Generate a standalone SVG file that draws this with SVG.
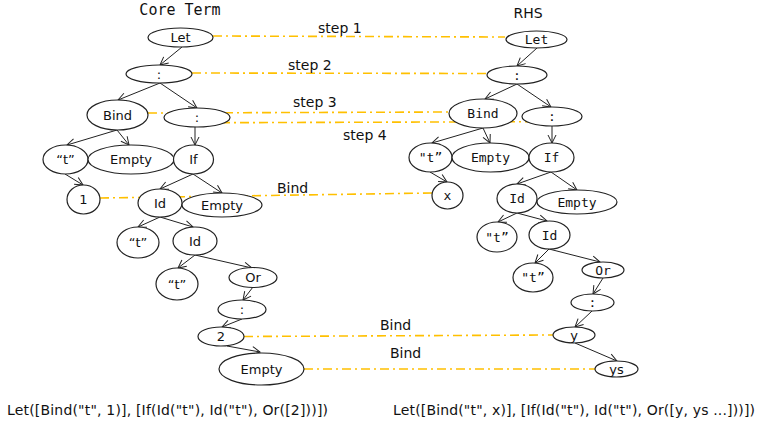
<svg xmlns="http://www.w3.org/2000/svg" width="758" height="424" viewBox="0 0 758 424">
<defs>
<marker id="ah" markerWidth="10" markerHeight="10" refX="9" refY="5" orient="auto" markerUnits="userSpaceOnUse">
<polyline points="1,1 9,5 1,9" fill="none" stroke="#222" stroke-width="1"/>
</marker>
<style>
.n ellipse{fill:#fff;stroke:#222;stroke-width:1.2}
.s{font-family:"DejaVu Sans",Verdana,sans-serif;font-size:13px;fill:#111;text-anchor:middle}
.m{font-family:"DejaVu Sans Mono",monospace;font-size:13px;fill:#111;text-anchor:middle}
.e line{stroke:#222;stroke-width:1;marker-end:url(#ah)}
.y line{stroke:#FFC000;stroke-width:1.6;stroke-dasharray:9 4 2 4}
.lab{font-family:"DejaVu Sans",Verdana,sans-serif;font-size:14px;fill:#111}
.bt{font-family:"DejaVu Sans",Verdana,sans-serif;font-size:14px;fill:#111}
</style>
</defs>
<rect width="758" height="424" fill="#fff"/>
<text x="180" y="15" style="font-family:'DejaVu Sans Mono',monospace;font-size:15px;fill:#111;text-anchor:middle">Core Term</text>
<text x="528" y="18" style="font-family:'DejaVu Sans',Verdana,sans-serif;font-size:14px;fill:#111;text-anchor:middle">RHS</text>

<g id="mappings" class="y">
<line x1="213" y1="36" x2="505" y2="37"/>
<line x1="192" y1="73" x2="487" y2="73.5"/>
<line x1="148" y1="113" x2="449" y2="112"/>
<line x1="221" y1="122.7" x2="530" y2="121.7"/>
<line x1="100" y1="198" x2="432" y2="193"/>
<line x1="244" y1="336.5" x2="553" y2="335"/>
<line x1="304" y1="369" x2="595" y2="369"/>
</g>
<g id="mapping-labels">
<text class="lab" x="318" y="33">step 1</text>
<text class="lab" x="288" y="70">step 2</text>
<text class="lab" x="293" y="107">step 3</text>
<text class="lab" x="343" y="140">step 4</text>
<text class="lab" x="277" y="193">Bind</text>
<text class="lab" x="380" y="330">Bind</text>
<text class="lab" x="390" y="358">Bind</text>
</g>

<g id="connectors" class="e">
<line x1="182" y1="47" x2="160" y2="65"/>
<line x1="160" y1="83" x2="118" y2="100"/>
<line x1="160" y1="83" x2="197" y2="108"/>
<line x1="117" y1="130" x2="67" y2="145"/>
<line x1="117" y1="130" x2="129" y2="145"/>
<line x1="195" y1="127" x2="195" y2="145"/>
<line x1="65" y1="174" x2="83" y2="185"/>
<line x1="193" y1="174" x2="160" y2="189"/>
<line x1="193" y1="174" x2="222" y2="193"/>
<line x1="160" y1="217" x2="138" y2="227"/>
<line x1="160" y1="217" x2="193" y2="227"/>
<line x1="195" y1="255" x2="178" y2="268"/>
<line x1="195" y1="255" x2="252" y2="268"/>
<line x1="253" y1="287" x2="243" y2="300"/>
<line x1="242" y1="319" x2="222" y2="327"/>
<line x1="227" y1="346" x2="260" y2="352"/>

<line x1="537" y1="48" x2="517" y2="66"/>
<line x1="517" y1="84" x2="485" y2="99"/>
<line x1="517" y1="84" x2="551" y2="107"/>
<line x1="483" y1="128" x2="432" y2="143"/>
<line x1="483" y1="128" x2="490" y2="143"/>
<line x1="552" y1="126" x2="552" y2="143"/>
<line x1="430" y1="172" x2="447" y2="182"/>
<line x1="551" y1="172" x2="517" y2="184"/>
<line x1="551" y1="172" x2="577" y2="190"/>
<line x1="517" y1="213" x2="498" y2="222"/>
<line x1="517" y1="213" x2="547" y2="221"/>
<line x1="549" y1="249" x2="535" y2="263"/>
<line x1="549" y1="249" x2="600" y2="262"/>
<line x1="603" y1="278" x2="593" y2="294"/>
<line x1="592" y1="311" x2="575" y2="327"/>
<line x1="575" y1="343" x2="617" y2="361"/>
</g>

<g id="L-let" class="n"><ellipse cx="180.5" cy="37.5" rx="32.5" ry="9.5"/><text class="s" x="180.5" y="42">Let</text></g>
<g id="L-cons1" class="n"><ellipse cx="159" cy="74" rx="33" ry="9"/><text class="s" x="159" y="79">:</text></g>
<g id="L-bind" class="n"><ellipse cx="117.5" cy="115" rx="30.5" ry="15"/><text class="s" x="117.5" y="120">Bind</text></g>
<g id="L-cons2" class="n"><ellipse cx="197" cy="117.5" rx="33" ry="9.5"/><text class="s" x="197" y="122">:</text></g>
<g id="L-t1" class="n"><ellipse cx="65.5" cy="159.5" rx="22.5" ry="14.5"/><text class="s" x="65.5" y="164">“t”</text></g>
<g id="L-empty1" class="n"><ellipse cx="131" cy="159.5" rx="43" ry="14.5"/><text class="s" x="131" y="164">Empty</text></g>
<g id="L-if" class="n"><ellipse cx="193.5" cy="159.5" rx="20" ry="14.5"/><text class="s" x="193.5" y="164">If</text></g>
<g id="L-1" class="n"><ellipse cx="83.5" cy="199.5" rx="16.5" ry="14.5"/><text class="s" x="83.5" y="204">1</text></g>
<g id="L-id1" class="n"><ellipse cx="160" cy="203" rx="22" ry="14"/><text class="s" x="160" y="208">Id</text></g>
<g id="L-empty2" class="n"><ellipse cx="222" cy="205" rx="40" ry="12"/><text class="s" x="222" y="210">Empty</text></g>
<g id="L-t2" class="n"><ellipse cx="138" cy="242.5" rx="21" ry="15.5"/><text class="s" x="138" y="247">“t”</text></g>
<g id="L-id2" class="n"><ellipse cx="195" cy="241" rx="22" ry="14"/><text class="s" x="195" y="246">Id</text></g>
<g id="L-t3" class="n"><ellipse cx="177" cy="284" rx="21" ry="16"/><text class="s" x="177" y="289">“t”</text></g>
<g id="L-or" class="n"><ellipse cx="253" cy="277.5" rx="24" ry="10"/><text class="s" x="253" y="282">Or</text></g>
<g id="L-cons3" class="n"><ellipse cx="242" cy="309.5" rx="24" ry="9.5"/><text class="s" x="242" y="314">:</text></g>
<g id="L-2" class="n"><ellipse cx="221" cy="336.5" rx="23" ry="9.5"/><text class="s" x="221" y="341">2</text></g>
<g id="L-empty3" class="n"><ellipse cx="261.5" cy="369" rx="42.5" ry="16"/><text class="s" x="261.5" y="374">Empty</text></g>

<g id="R-let" class="n"><ellipse cx="536.5" cy="39.5" rx="30.5" ry="8.5"/><text class="m" x="536.5" y="44">Let</text></g>
<g id="R-cons1" class="n"><ellipse cx="517" cy="75" rx="30" ry="9"/><text class="m" x="517" y="80">:</text></g>
<g id="R-bind" class="n"><ellipse cx="483" cy="113.5" rx="34" ry="14.5"/><text class="m" x="483" y="118">Bind</text></g>
<g id="R-cons2" class="n"><ellipse cx="552" cy="116.5" rx="30" ry="9.5"/><text class="m" x="552" y="121">:</text></g>
<g id="R-t1" class="n"><ellipse cx="430.5" cy="157.5" rx="21.5" ry="14.5"/><text class="m" x="430.5" y="162">"t”</text></g>
<g id="R-empty1" class="n"><ellipse cx="490.5" cy="157.5" rx="38.5" ry="14.5"/><text class="m" x="490.5" y="162">Empty</text></g>
<g id="R-if" class="n"><ellipse cx="551.5" cy="157.5" rx="22.5" ry="14.5"/><text class="m" x="551.5" y="162">If</text></g>
<g id="R-x" class="n"><ellipse cx="447.5" cy="195.5" rx="15.5" ry="13.5"/><text class="m" x="447.5" y="200">x</text></g>
<g id="R-id1" class="n"><ellipse cx="517" cy="198.5" rx="20" ry="14.5"/><text class="m" x="517" y="203">Id</text></g>
<g id="R-empty2" class="n"><ellipse cx="577" cy="202" rx="40" ry="12"/><text class="m" x="577" y="207">Empty</text></g>
<g id="R-t2" class="n"><ellipse cx="497" cy="237" rx="20" ry="15"/><text class="m" x="497" y="242">"t”</text></g>
<g id="R-id2" class="n"><ellipse cx="549.5" cy="235" rx="20.5" ry="14"/><text class="m" x="549.5" y="240">Id</text></g>
<g id="R-t3" class="n"><ellipse cx="533" cy="277.5" rx="20" ry="14.5"/><text class="m" x="533" y="282">"t”</text></g>
<g id="R-or" class="n"><ellipse cx="603" cy="270" rx="21" ry="8"/><text class="m" x="603" y="275">Or</text></g>
<g id="R-cons3" class="n"><ellipse cx="592.5" cy="302.5" rx="21.5" ry="8.5"/><text class="m" x="592.5" y="307">:</text></g>
<g id="R-y" class="n"><ellipse cx="574" cy="335" rx="21" ry="8"/><text class="s" x="574" y="340">y</text></g>
<g id="R-ys" class="n"><ellipse cx="616.5" cy="369" rx="21.5" ry="8"/><text class="s" x="616.5" y="374">ys</text></g>

<text class="bt" x="7" y="415" textLength="321">Let([Bind("t", 1)], [If(Id("t"), Id("t"), Or([2]))])</text>
<text class="bt" x="393" y="415" textLength="362">Let([Bind("t", x)], [If(Id("t"), Id("t"), Or([y, ys ...]))])</text>
</svg>
